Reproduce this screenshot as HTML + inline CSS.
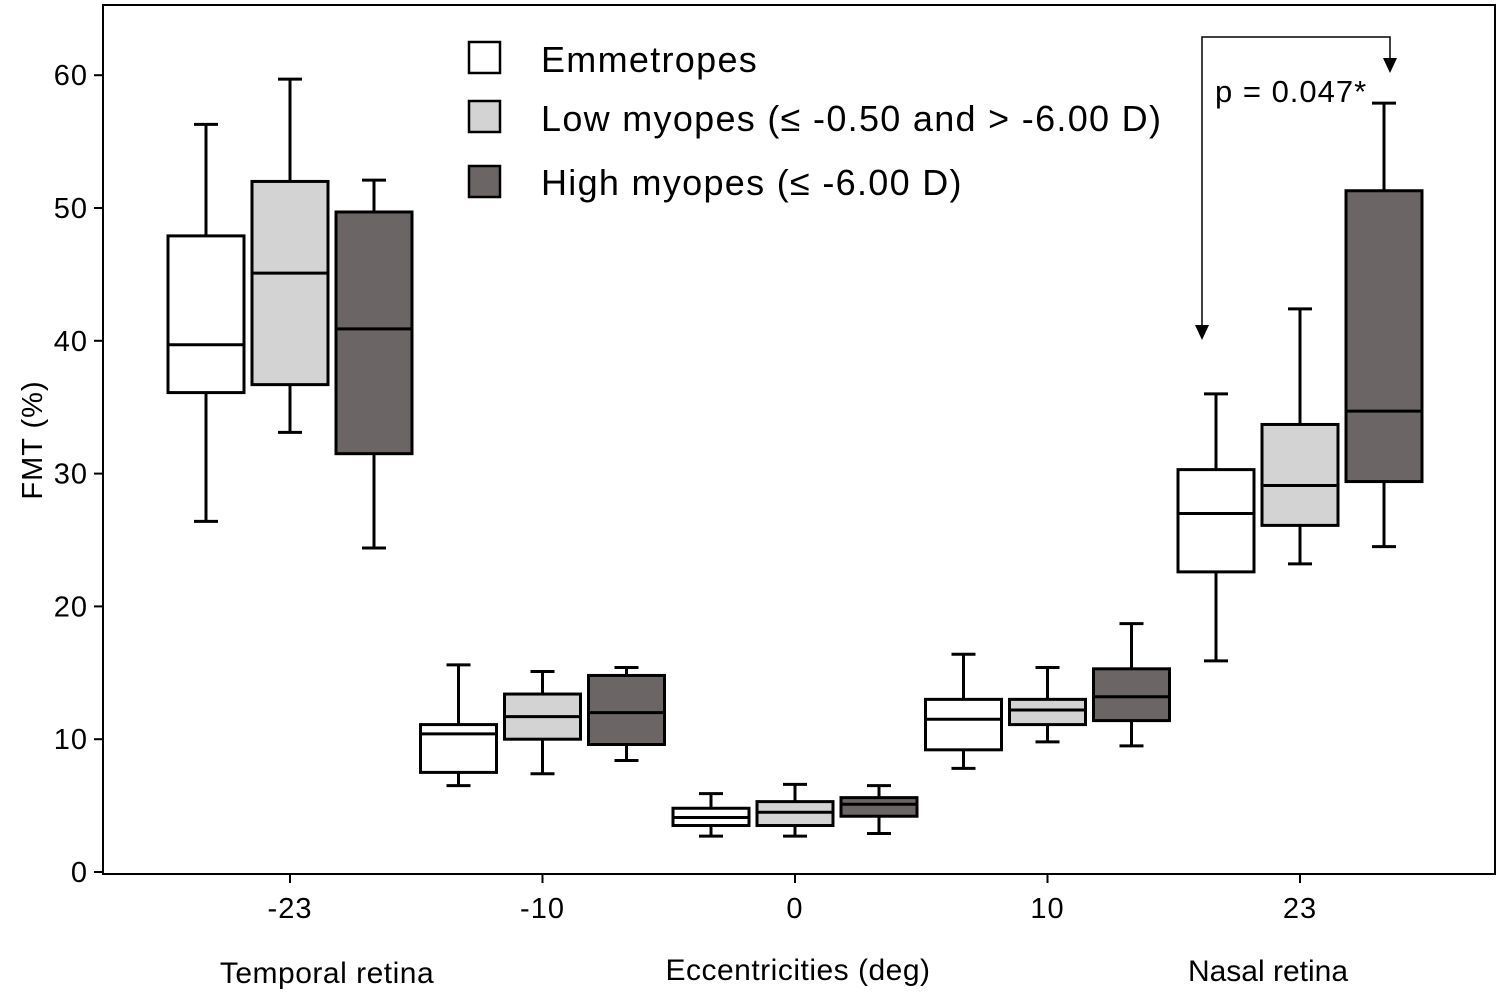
<!DOCTYPE html>
<html><head><meta charset="utf-8"><style>
html,body{margin:0;padding:0;background:#fff;}
svg{display:block;font-family:"Liberation Sans",sans-serif;}
</style></head><body>
<svg id="chart" width="1500" height="994" viewBox="0 0 1500 994">
<rect x="103" y="5" width="1392" height="869" fill="none" stroke="#000" stroke-width="2"/>
<g id="yaxis"></g>
<g id="xaxis"></g>
<g id="boxes"></g>
<text transform="translate(42,440) rotate(-90)" text-anchor="middle" font-size="29" letter-spacing="1">FMT (%)</text>
<text x="798" y="980" text-anchor="middle" font-size="30" letter-spacing="0.5">Eccentricities (deg)</text>
<text x="327" y="983" text-anchor="middle" font-size="30" letter-spacing="0.5">Temporal retina</text>
<text x="1268" y="981" text-anchor="middle" font-size="30">Nasal retina</text>
<g font-size="36" letter-spacing="1.3">
<rect x="469" y="42" width="31" height="31" fill="#fff" stroke="#000" stroke-width="2.5"/>
<text x="541" y="72">Emmetropes</text>
<rect x="469" y="101" width="31" height="31" fill="#d3d3d3" stroke="#000" stroke-width="2.5"/>
<text x="541" y="131">Low myopes (≤ -0.50 and &gt; -6.00 D)</text>
<rect x="469" y="166" width="31" height="31" fill="#6b6565" stroke="#000" stroke-width="2.5"/>
<text x="541" y="195">High myopes (≤ -6.00 D)</text>
</g>
<g>
<polyline points="1202,328 1202,37 1390,37 1390,62" fill="none" stroke="#000" stroke-width="1.5"/>
<polygon points="1195,325 1209,325 1202,340" fill="#000"/>
<polygon points="1383,58 1397,58 1390,73" fill="#000"/>
<text x="1215" y="102" font-size="31" letter-spacing="1">p = 0.047*</text>
</g>
</svg>
<script>
const categories = [-23, -10, 0, 10, 23];
const groups = ["emmetropes","low-myopes","high-myopes"];
const emMin=[26.4,6.5,2.7,7.8,15.9], emQ1=[36.1,7.5,3.5,9.2,22.6], emMed=[39.7,10.4,4.1,11.5,27.0], emQ3=[47.9,11.1,4.8,13.0,30.3], emMax=[56.3,15.6,5.9,16.4,36.0];
const loMin=[33.1,7.4,2.7,9.8,23.2], loQ1=[36.7,10.0,3.5,11.1,26.1], loMed=[45.1,11.7,4.5,12.2,29.1], loQ3=[52.0,13.4,5.3,13.0,33.7], loMax=[59.7,15.1,6.6,15.4,42.4];
const hiMin=[24.4,8.4,2.9,9.5,24.5], hiQ1=[31.5,9.6,4.2,11.4,29.4], hiMed=[40.9,12.0,5.1,13.2,34.7], hiQ3=[49.7,14.8,5.6,15.3,51.3], hiMax=[52.1,15.4,6.5,18.7,57.9];
const yTicks=[0,10,20,30,40,50,60];
const fills=["#ffffff","#d3d3d3","#6b6565"];
const NS="http://www.w3.org/2000/svg";
const y=v=>872-v*13.28;
const xIdx=i=>290+i*252.5;
function mk(tag,attrs,parent){const e=document.createElementNS(NS,tag);for(const k in attrs)e.setAttribute(k,attrs[k]);parent.appendChild(e);return e;}
const ya=document.getElementById('yaxis');
yTicks.forEach(t=>{
  const l=mk('line',{x1:94,x2:103,y1:y(t),y2:y(t),stroke:'#000','stroke-width':2},ya);
  
  
  const tx=mk('text',{x:88,y:y(t)+10,'text-anchor':'end','font-size':29,'letter-spacing':1},ya);
  tx.textContent=t;
  
  
});
const xa=document.getElementById('xaxis');
categories.forEach((c,i)=>{
  const l=mk('line',{x1:xIdx(i),x2:xIdx(i),y1:874,y2:883,stroke:'#000','stroke-width':2},xa);
  
  
  const tx=mk('text',{x:xIdx(i),y:918,'text-anchor':'middle','font-size':29,'letter-spacing':1},xa);
  tx.textContent=c;
  
  
});
const data=[[emMin,emQ1,emMed,emQ3,emMax],[loMin,loQ1,loMed,loQ3,loMax],[hiMin,hiQ1,hiMed,hiQ3,hiMax]];
const bg=document.getElementById('boxes');
categories.forEach((c,i)=>{
  data.forEach((d,g)=>{
    const cx=xIdx(i)+(g-1)*84, w=76;
    const grp=mk('g',{stroke:'#000','stroke-width':3},bg);
    
    
    const [mn,q1,md,q3,mx]=d.map(a=>a[i]);
    mk('line',{x1:cx,x2:cx,y1:y(mx),y2:y(q3)},grp);
    mk('line',{x1:cx,x2:cx,y1:y(q1),y2:y(mn)},grp);
    mk('line',{x1:cx-12,x2:cx+12,y1:y(mx),y2:y(mx)},grp);
    mk('line',{x1:cx-12,x2:cx+12,y1:y(mn),y2:y(mn)},grp);
    mk('rect',{x:cx-w/2,y:y(q3),width:w,height:y(q1)-y(q3),fill:fills[g]},grp);
    mk('line',{x1:cx-w/2,x2:cx+w/2,y1:y(md),y2:y(md)},grp);
  });
});
</script>
</body></html>
